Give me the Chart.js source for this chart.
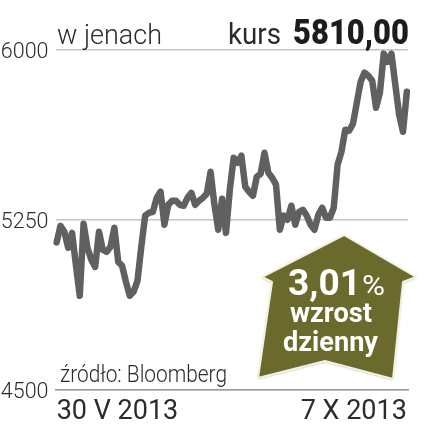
<!DOCTYPE html>
<html>
<head>
<meta charset="utf-8">
<script src="https://cdn.jsdelivr.net/npm/chart.js@4"></script>
<style>
  html, body { margin: 0; padding: 0; background: #fff; }
  canvas { display: block; }
</style>
</head>
<body>
<canvas id="myChart" width="441" height="429"></canvas>
<script>
// one value per session, 30 V - 7 X 2013
const kurs = [
  5150, 5223, 5197, 5126, 5192, 5051, 4914, 5232, 5126, 5073,
  5042, 5197, 5117, 5108, 5131, 5215, 5064, 5047, 4976, 4914,
  4932, 4980, 5131, 5268, 5281, 5285, 5347, 5374, 5228, 5316,
  5334, 5334, 5316, 5312, 5347, 5369, 5316, 5334, 5347, 5365,
  5462, 5316, 5206, 5343, 5192, 5383, 5524, 5502, 5533, 5396,
  5374, 5356, 5440, 5453, 5546, 5458, 5436, 5405, 5206, 5268,
  5250, 5312, 5228, 5285, 5294, 5268, 5228, 5206, 5272, 5303,
  5259, 5259, 5303, 5493, 5550, 5648, 5643, 5674, 5767, 5860,
  5900, 5886, 5864, 5745, 5811, 5984, 5948, 5984, 5847, 5714,
  5639, 5816
];
const yTicks = [4500, 5250, 6000];
const xTicks = [0, 91];
const xTickLabels = ['30 V 2013', '7 X 2013'];

const lineColor = '#606060';
const textColor = '#2b2b2b';

// draws text squeezed to the given width, the paper's type is condensed
function label(ctx, text, x, y, width, font, color) {
  ctx.save();
  ctx.font = font;
  ctx.fillStyle = color;
  ctx.textAlign = 'left';
  ctx.textBaseline = 'alphabetic';
  ctx.translate(x, y);
  ctx.scale(width / ctx.measureText(text).width, 1);
  ctx.fillText(text, 0, 0);
  ctx.restore();
}

// headline, source and the olive arrow
const extras = {
  id: 'extras',
  afterDraw(chart) {
    const ctx = chart.ctx;
    ctx.save();
    label(ctx, 'w jenach', 57, 44, 105, '300 28px Roboto', textColor);
    label(ctx, 'kurs', 228, 44, 53, '400 30px Roboto', textColor);
    label(ctx, '5810,00', 293, 44, 116, '900 35px Roboto', '#1c1c1c');
    label(ctx, 'źródło: Bloomberg', 60, 382, 167, '300 23px Roboto', textColor);

    ctx.beginPath();
    ctx.moveTo(344, 235);
    ctx.lineTo(416, 277);
    ctx.lineTo(403, 282);
    ctx.lineTo(393, 379);
    ctx.lineTo(325, 361);
    ctx.lineTo(258, 378);
    ctx.lineTo(272, 282);
    ctx.lineTo(262, 277);
    ctx.closePath();
    ctx.shadowColor = 'rgba(0,0,0,0.35)';
    ctx.shadowBlur = 2;
    ctx.shadowOffsetY = 1;
    ctx.fillStyle = '#6b6a2d';
    ctx.fill();
    ctx.shadowColor = 'transparent';
    ctx.strokeStyle = '#f4f1e0';
    ctx.lineWidth = 2;
    ctx.lineJoin = 'round';
    ctx.stroke();

    label(ctx, '3,01', 288, 295, 73, '700 36px Roboto', '#fff');
    label(ctx, '%', 362, 295, 23, '400 28px Roboto', '#fff');
    label(ctx, 'wzrost', 290, 322, 82, '700 28px Roboto', '#fff');
    label(ctx, 'dzienny', 283, 351, 95, '700 28px Roboto', '#fff');
    ctx.restore();
  }
};

new Chart(document.getElementById('myChart').getContext('2d'), {
  type: 'line',
  data: {
    datasets: [{
      data: kurs.map((v, i) => ({ x: i, y: v })),
      borderColor: lineColor,
      borderWidth: 6.5,
      borderJoinStyle: 'round',
      borderCapStyle: 'round',
      pointRadius: 0,
      tension: 0,
      clip: false
    }]
  },
  options: {
    responsive: false,
    animation: false,
    layout: { padding: { top: 50, right: 33, left: 0, bottom: 0 } },
    plugins: { legend: { display: false }, tooltip: { enabled: false } },
    scales: {
      x: {
        type: 'linear',
        min: -0.3,
        max: 91.3,
        afterBuildTicks(s) { s.ticks = xTicks.map(v => ({ value: v })); },
        afterFit(s) { s.height = 39.5; },
        grid: { display: false },
        border: { color: '#999', width: 1.5 },
        ticks: {
          autoSkip: false,
          maxRotation: 0,
          align: 'inner',
          padding: -1,
          color: textColor,
          font: { family: 'Roboto', size: 27, weight: '400' },
          callback: (v) => xTickLabels[xTicks.indexOf(v)]
        }
      },
      y: {
        min: 4500,
        max: 6000,
        afterBuildTicks(s) { s.ticks = yTicks.map(v => ({ value: v })); },
        afterFit(s) { s.width = 55.5; },
        border: { display: false },
        grid: { color: '#c4c4c4', lineWidth: 1.5, drawTicks: false },
        ticks: {
          padding: 7,
          labelOffset: 3,
          color: textColor,
          font: { family: 'Roboto', size: 21.5, weight: '300' },
          callback: (v) => String(v)
        }
      }
    }
  },
  plugins: [extras]
});
</script>
</body>
</html>
